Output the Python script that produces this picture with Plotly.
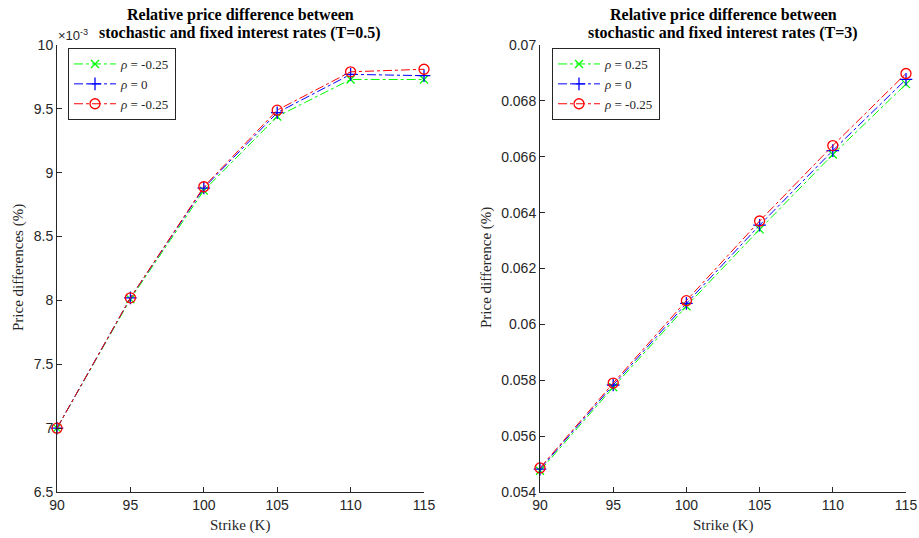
import plotly.graph_objects as go

strikes = [90, 95, 100, 105, 110, 115]

# T = 0.5 (values in absolute units; axis shows x10^-3)
t05_rho_pos = [0.00700, 0.00801, 0.00886, 0.00944, 0.00973, 0.00973]
t05_rho_0 = [0.00700, 0.00802, 0.00888, 0.00947, 0.00977, 0.00976]
t05_rho_neg = [0.00700, 0.00802, 0.00889, 0.00949, 0.00979, 0.00981]
t05_names = ["<i>ρ</i> = -0.25", "<i>ρ</i> = 0", "<i>ρ</i> = -0.25"]

# T = 3
t3_rho_pos = [0.05476, 0.05775, 0.06065, 0.06340, 0.06608, 0.06860]
t3_rho_0 = [0.05482, 0.05783, 0.06075, 0.06355, 0.06622, 0.06877]
t3_rho_neg = [0.05486, 0.05790, 0.06085, 0.06370, 0.06640, 0.06898]
t3_names = ["<i>ρ</i> = 0.25", "<i>ρ</i> = 0", "<i>ρ</i> = -0.25"]

x_ticks = [90, 95, 100, 105, 110, 115]
y1_tick_labels = ["6.5", "7", "7.5", "8", "8.5", "9", "9.5", "10"]
y2_tick_labels = ["0.054", "0.056", "0.058", "0.06", "0.062", "0.064", "0.066", "0.068", "0.07"]

colors = ["#00ff00", "#0000ff", "#ff0000"]
symbols = ["x-thin-open", "cross-thin-open", "circle-open"]
sizes = [8, 9, 10]

SERIF = "Liberation Serif"
SANS = "Liberation Sans"

W, H = 919, 538
def px_x(p): return p / W
def px_y(p): return 1 - p / H

fig = go.Figure()

series_left = [t05_rho_pos, t05_rho_0, t05_rho_neg]
series_right = [t3_rho_pos, t3_rho_0, t3_rho_neg]

for i in range(3):
    fig.add_trace(go.Scatter(
        x=strikes, y=series_left[i], name=t05_names[i], mode="lines+markers", cliponaxis=False,
        line=dict(color=colors[i], width=1, dash="dashdot"),
        marker=dict(symbol=symbols[i], size=sizes[i], color=colors[i], line=dict(width=1.3, color=colors[i])),
        xaxis="x", yaxis="y", legend="legend"))
for i in range(3):
    fig.add_trace(go.Scatter(
        x=strikes, y=series_right[i], name=t3_names[i], mode="lines+markers", cliponaxis=False,
        line=dict(color=colors[i], width=1, dash="dashdot"),
        marker=dict(symbol=symbols[i], size=sizes[i], color=colors[i], line=dict(width=1.3, color=colors[i])),
        xaxis="x2", yaxis="y2", legend="legend2"))

axis_common = dict(
    showgrid=False, zeroline=False, showline=True, linecolor="#262626", linewidth=1,
    ticks="inside", ticklen=5, tickcolor="#262626", tickwidth=1,
    tickfont=dict(family=SANS, size=14, color="#262626"),
    mirror=False, automargin=False,
)

ydom = [px_y(492), px_y(45)]
leg_font = dict(family=SERIF, size=13, color="#262626")
fig.update_layout(
    width=W, height=H, margin=dict(l=0, r=0, t=0, b=0, autoexpand=False),
    paper_bgcolor="white", plot_bgcolor="white",
    xaxis=dict(domain=[px_x(57), px_x(424)], range=[90, 115], tickvals=x_ticks,
               anchor="y", **axis_common),
    yaxis=dict(domain=ydom, range=[0.0065, 0.0100],
               tickvals=[float(s) * 1e-3 for s in y1_tick_labels], ticktext=y1_tick_labels,
               anchor="x", **axis_common),
    xaxis2=dict(domain=[px_x(540), px_x(906)], range=[90, 115], tickvals=x_ticks,
                anchor="y2", **axis_common),
    yaxis2=dict(domain=ydom, range=[0.054, 0.070],
                tickvals=[float(s) for s in y2_tick_labels], ticktext=y2_tick_labels,
                anchor="x2", **axis_common),
    legend=dict(x=px_x(68), y=px_y(48), xanchor="left", yanchor="top",
                bgcolor="white", bordercolor="#262626", borderwidth=1,
                font=leg_font, tracegroupgap=0, itemwidth=42),
    legend2=dict(x=px_x(552), y=px_y(48), xanchor="left", yanchor="top",
                 bgcolor="white", bordercolor="#262626", borderwidth=1,
                 font=leg_font, tracegroupgap=0, itemwidth=42),
    showlegend=True,
)

title_font = dict(family=SERIF, size=16, color="black")
label_font = dict(family=SERIF, size=15, color="#262626")
ann = [
    dict(text="<b>Relative price difference between</b>", x=px_x(240), y=px_y(15)),
    dict(text="<b>stochastic and fixed interest rates (T=0.5)</b>", x=px_x(240), y=px_y(33)),
    dict(text="<b>Relative price difference between</b>", x=px_x(723), y=px_y(15)),
    dict(text="<b>stochastic and fixed interest rates (T=3)</b>", x=px_x(723), y=px_y(33)),
]
for a in ann:
    fig.add_annotation(xref="paper", yref="paper", showarrow=False, font=title_font,
                       xanchor="center", yanchor="middle", **a)

fig.add_annotation(text="×10<sup>-3</sup>", xref="paper", yref="paper", x=px_x(56), y=px_y(35),
                   xanchor="left", yanchor="middle", showarrow=False,
                   font=dict(family=SANS, size=13, color="#262626"))

fig.add_annotation(text="Strike (K)", xref="paper", yref="paper", x=px_x(240), y=px_y(525),
                   xanchor="center", yanchor="middle", showarrow=False, font=label_font)
fig.add_annotation(text="Strike (K)", xref="paper", yref="paper", x=px_x(723), y=px_y(525),
                   xanchor="center", yanchor="middle", showarrow=False, font=label_font)
fig.add_annotation(text="Price differences (%)", xref="paper", yref="paper", x=px_x(18), y=px_y(268),
                   xanchor="center", yanchor="middle", showarrow=False, textangle=-90, font=label_font)
fig.add_annotation(text="Price difference (%)", xref="paper", yref="paper", x=px_x(486), y=px_y(268),
                   xanchor="center", yanchor="middle", showarrow=False, textangle=-90, font=label_font)

fig.write_html("out.html")
